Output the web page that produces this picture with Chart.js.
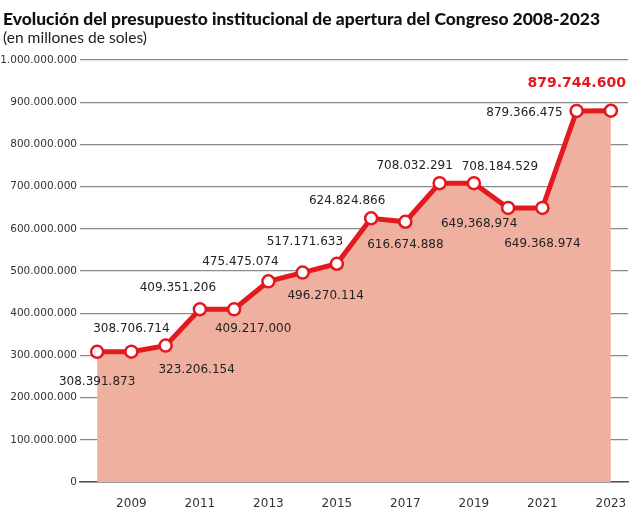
<!DOCTYPE html>
<html>
<head>
<meta charset="utf-8">
<script src="https://cdn.jsdelivr.net/npm/chart.js@4.4.1/dist/chart.umd.min.js"></script>
<style>
  html, body { margin: 0; padding: 0; background: #fff; }
  #wrap { position: relative; width: 640px; height: 519px; }
  #title, #subtitle { position: absolute; left: 3px; white-space: nowrap; transform-origin: 0 0; color: #111; line-height: 1; }
  #title { top: 9px; font: 900 16px Lato, "Open Sans", sans-serif; }
  #subtitle { top: 27px; font: 16px Lato, "Open Sans", sans-serif; color: #222; }
  canvas { position: absolute; left: 0; top: 0; }
</style>
</head>
<body>
<div id="wrap">
  <canvas id="chart" width="640" height="519"></canvas>
  <span id="title">Evolución del presupuesto institucional de apertura del Congreso 2008-2023</span>
  <span id="subtitle">(en millones de soles)</span>
</div>
<script>
// data
const years = ["2008","2009","2010","2011","2012","2013","2014","2015",
               "2016","2017","2018","2019","2020","2021","2022","2023"];
const budget = [308391873, 308706714, 323206154, 409351206, 409217000, 475475074,
                496270114, 517171633, 624824866, 616674888, 708032291, 708184529,
                649368974, 649368974, 879366475, 879744600];
const valueLabels = ["308.391.873","308.706.714","323.206.154","409.351.206","409.217.000",
                     "475.475.074","496.270.114","517.171.633","624.824.866","616.674.888",
                     "708.032.291","708.184.529","649,368,974","649.368.974","879.366.475",
                     "879.744.600"];
const yTicks = [0, 100000000, 200000000, 300000000, 400000000, 500000000,
                600000000, 700000000, 800000000, 900000000, 1000000000];

// label placement: [dx, dy, align]
const labelPlace = [
  [0, 30, "center"], [0, -23, "center"], [31, 24, "center"], [-22, -21, "center"],
  [19, 20, "center"], [-28, -19, "center"], [23, 23, "center"], [-32, -22, "center"],
  [-24, -17, "center"], [0, 23, "center"], [-25, -17, "center"], [26, -16, "center"],
  [-29, 16, "center"], [0, 36, "center"], [-14, 2, "right"], [15, -27, "right"]
];

const RED = "#e4181f";

// stretch/squeeze the headings to the reference width
function fitWidth(id, w) {
  const el = document.getElementById(id);
  const cur = el.getBoundingClientRect().width;
  el.style.transform = `scaleX(${w / cur})`;
}
fitWidth("title", 597);
fitWidth("subtitle", 144);

function dots(v) {
  return String(v).replace(/\B(?=(\d{3})+(?!\d))/g, ".");
}

const pointLabels = {
  id: "pointLabels",
  afterDatasetsDraw(chart) {
    const ctx = chart.ctx;
    const meta = chart.getDatasetMeta(0);
    ctx.save();
    ctx.textBaseline = "middle";
    meta.data.forEach((pt, i) => {
      const [dx, dy, align] = labelPlace[i];
      const last = i === meta.data.length - 1;
      ctx.font = last ? 'bold 14px "DejaVu Sans", sans-serif' : '12px "DejaVu Sans", sans-serif';
      ctx.fillStyle = last ? RED : "#222";
      ctx.textAlign = align;
      ctx.fillText(valueLabels[i], pt.x + dx, pt.y + dy);
    });
    ctx.restore();
  }
};

new Chart(document.getElementById("chart").getContext("2d"), {
  type: "line",
  data: {
    labels: years,
    datasets: [{
      data: budget,
      borderColor: RED,
      borderWidth: 5,
      backgroundColor: "#f0b09f",
      fill: "origin",
      tension: 0,
      pointRadius: 6,
      pointBorderWidth: 2.5,
      pointBackgroundColor: "#fff",
      pointBorderColor: RED
    }]
  },
  options: {
    responsive: false,
    animation: false,
    layout: { padding: { top: 60, right: 12, left: 0, bottom: 0 } },
    plugins: { legend: { display: false }, tooltip: { enabled: false } },
    scales: {
      x: {
        offset: true,
        afterFit: s => { s.height = 37; },
        grid: { display: false },
        border: { color: "#555", width: 1.5 },
        ticks: {
          autoSkip: false,
          maxRotation: 0,
          padding: 7,
          color: "#333",
          font: { family: "DejaVu Sans", size: 12 },
          callback: (v, i) => (i % 2 === 1 ? years[i] : "")
        }
      },
      y: {
        min: 0,
        max: 1000000000,
        afterFit: s => { s.width = 80; },
        afterBuildTicks: s => { s.ticks = yTicks.map(v => ({ value: v })); },
        border: { display: false },
        grid: { color: "#8a8a8a", lineWidth: 1.2, drawTicks: false },
        ticks: {
          padding: 3,
          color: "#333",
          font: { family: "DejaVu Sans", size: 10.5 },
          callback: v => dots(v)
        }
      }
    }
  },
  plugins: [pointLabels]
});
</script>
</body>
</html>
